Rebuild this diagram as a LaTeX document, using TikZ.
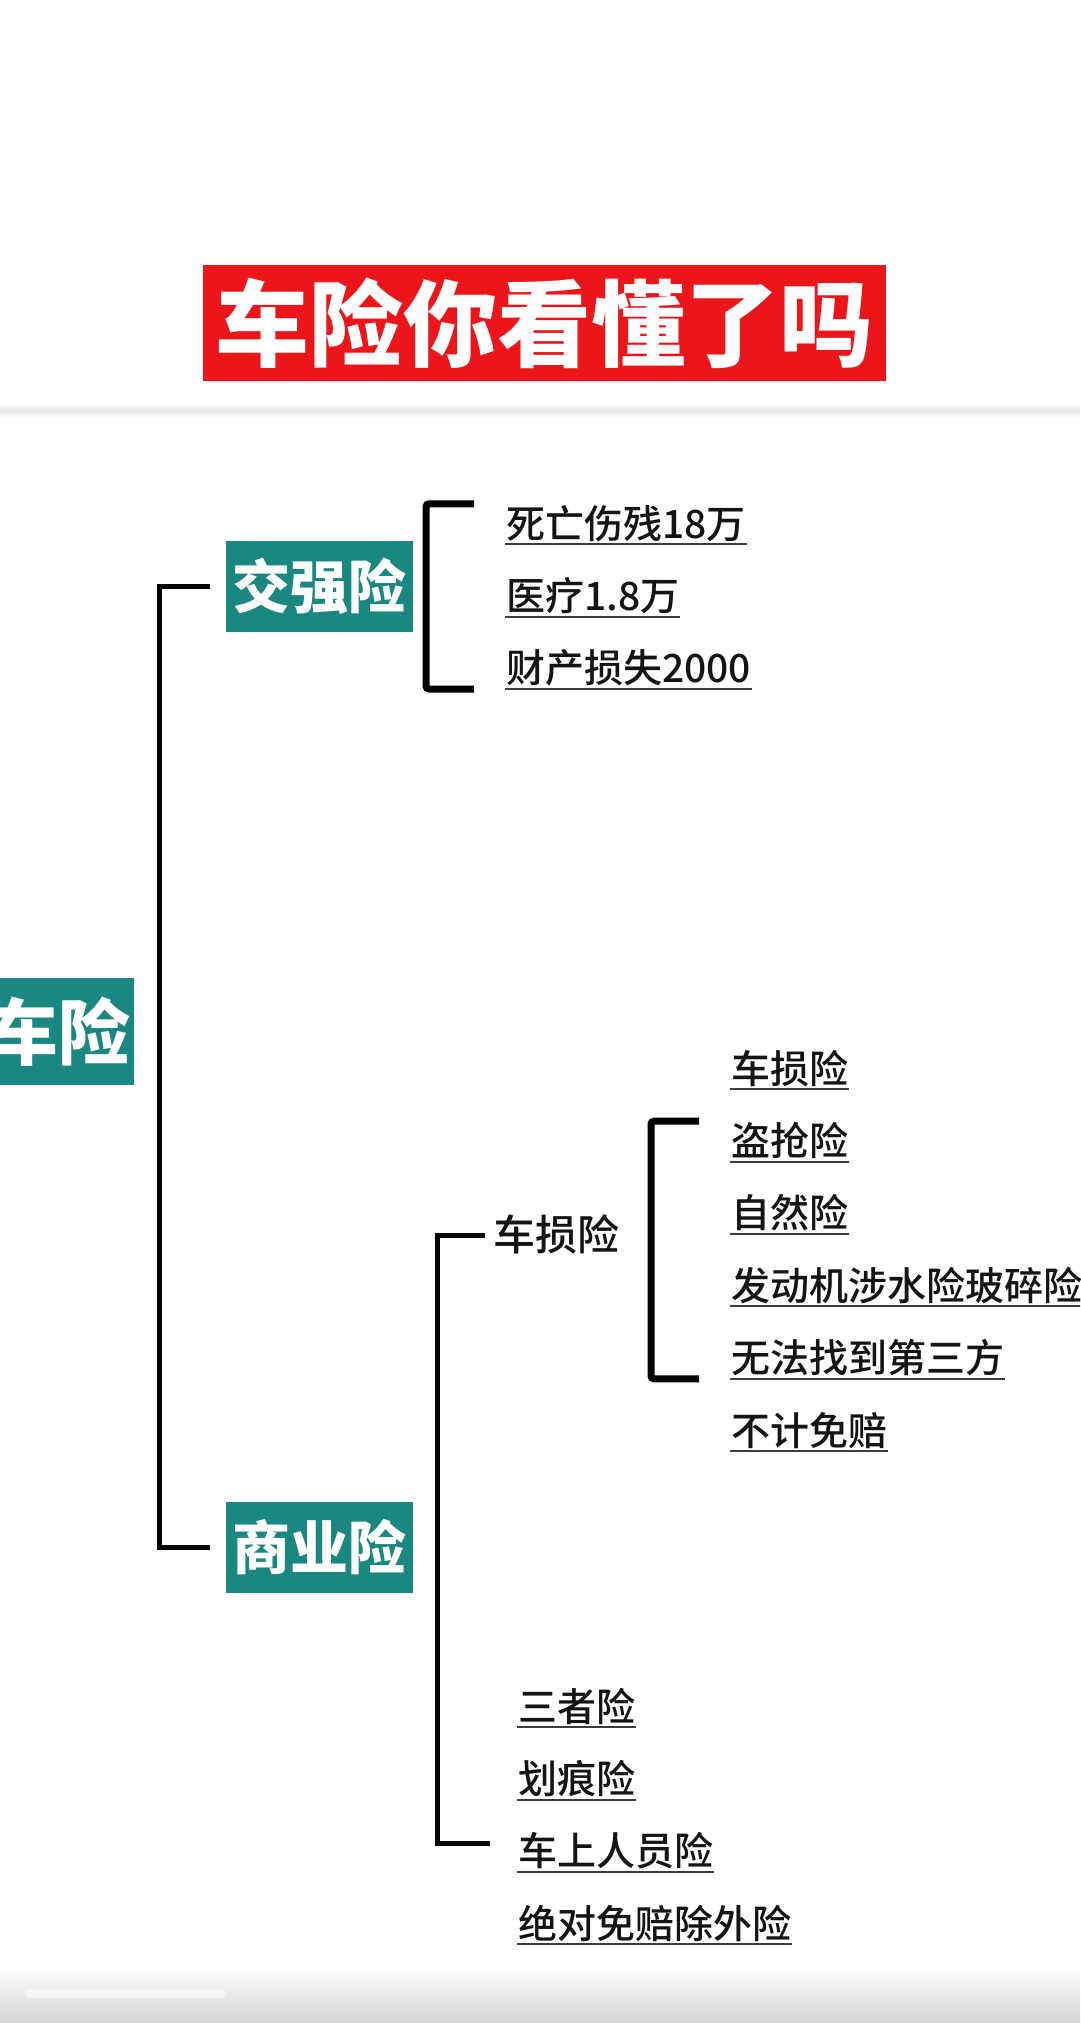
\documentclass[tikz,border=0pt]{standalone}
\usepackage{fontspec}
\usepackage{tikz}
\usetikzlibrary{positioning, calc}
\newfontfamily\cjk{Noto Sans CJK SC}
\newfontfamily\cjkleaf{Noto Sans CJK SC}[UprightFont={* Medium}]
\definecolor{bannerred}{RGB}{236,22,26}
\definecolor{tealbox}{RGB}{26,135,128}
\definecolor{inkblack}{RGB}{20,20,20}
\definecolor{rulegray}{RGB}{60,60,60}

\begin{document}
\begin{tikzpicture}[x=1pt, y=-1pt,
    every node/.style={font=\cjk},
    banner/.style={fill=bannerred, text=white, font=\cjk\bfseries\fontsize{94}{94}\selectfont, minimum width=683pt, minimum height=116pt, inner sep=0pt},
    catbox/.style={fill=tealbox, text=white, font=\cjk\bfseries\fontsize{#1}{#1}\selectfont, inner sep=0pt},
    leaf/.style={text=inkblack, font=\cjkleaf\fontsize{39}{39}\selectfont, inner xsep=1pt, inner ysep=0pt, text height=34pt, text depth=6pt, anchor=west},
    midlabel/.style={text=inkblack, font=\cjkleaf\fontsize{42}{42}\selectfont, inner sep=0pt, text height=36pt, text depth=6pt, anchor=west},
    underline/.style={draw=rulegray, line width=2pt},
    trunk/.style={draw=black, line width=5pt},
    bracket/.style={draw=black, line width=7pt, rounded corners=3pt},
    node distance=32pt
]
\useasboundingbox (0,0) rectangle (1080,2023);
\clip (0,0) rectangle (1080,2023);
\fill[white] (0,0) rectangle (1080,2023);

% page bands
\shade[top color=white, bottom color=white, middle color=black!10] (0,403) rectangle (1080,418);
\shade[top color=white, bottom color=black!17] (0,1966) rectangle (1080,2023);
\fill[black!4, rounded corners=4pt] (25,1989) rectangle (225,1998);

\node[banner] (title) at (544.5,323) {车险你看懂了吗};

% main categories
\node[catbox=72, anchor=east, minimum height=107pt, inner xsep=3pt] (root) at (134,1031.5) {车险};
\node[catbox=58, minimum width=187pt, minimum height=91pt] (jq) at (319.5,586.5) {交强险};
\node[catbox=58, minimum width=187pt, minimum height=91pt] (sy) at (319.5,1547) {商业险};

% jiaoqiang items
\node[leaf] (k1) at (505,524) {死亡伤残18万};
\node[leaf, below=of k1.south west, anchor=north west] (k2) {医疗1.8万};
\node[leaf, below=of k2.south west, anchor=north west] (k3) {财产损失2000};

% commercial items
\node[midlabel] (cs) at (493,1235) {车损险};
\node[leaf] (c1) at (730,1069) {车损险};
\node[leaf, below=of c1.south west, anchor=north west] (c2) {盗抢险};
\node[leaf, below=of c2.south west, anchor=north west] (c3) {自然险};
\node[leaf, below=of c3.south west, anchor=north west] (c4) {发动机涉水险玻碎险};
\node[leaf, below=of c4.south west, anchor=north west] (c5) {无法找到第三方};
\node[leaf, below=of c5.south west, anchor=north west] (c6) {不计免赔};

\node[leaf] (b1) at (517,1707) {三者险};
\node[leaf, below=of b1.south west, anchor=north west] (b2) {划痕险};
\node[leaf, below=of b2.south west, anchor=north west] (b3) {车上人员险};
\node[leaf, below=of b3.south west, anchor=north west] (b4) {绝对免赔除外险};

\foreach \n in {k1,k2,k3,c1,c2,c3,c4,c5,c6,b1,b2,b3,b4}
    \draw[underline] (\n.south west) -- (\n.south east);

% connectors
\draw[trunk] ([xshift=-16pt]jq.west) -- ([xshift=-66pt]jq.west) -- ([xshift=-66pt]sy.west) -- ([xshift=-16pt]sy.west);
\draw[trunk] ([xshift=-8pt]cs.west) -- ([xshift=-56pt]cs.west) |- ([xshift=-27pt,yshift=8pt]b3.west);
\draw[bracket] ([xshift=-31pt]k1.north west) -- ([xshift=-79pt]k1.north west) -- ([xshift=-79pt]k3.south west) -- ([xshift=-31pt]k3.south west);
\draw[bracket] ([xshift=-31pt]c2.north west) -- ([xshift=-79pt]c2.north west) -- ([xshift=-79pt]c5.south west) -- ([xshift=-31pt]c5.south west);

\end{tikzpicture}
\end{document}
